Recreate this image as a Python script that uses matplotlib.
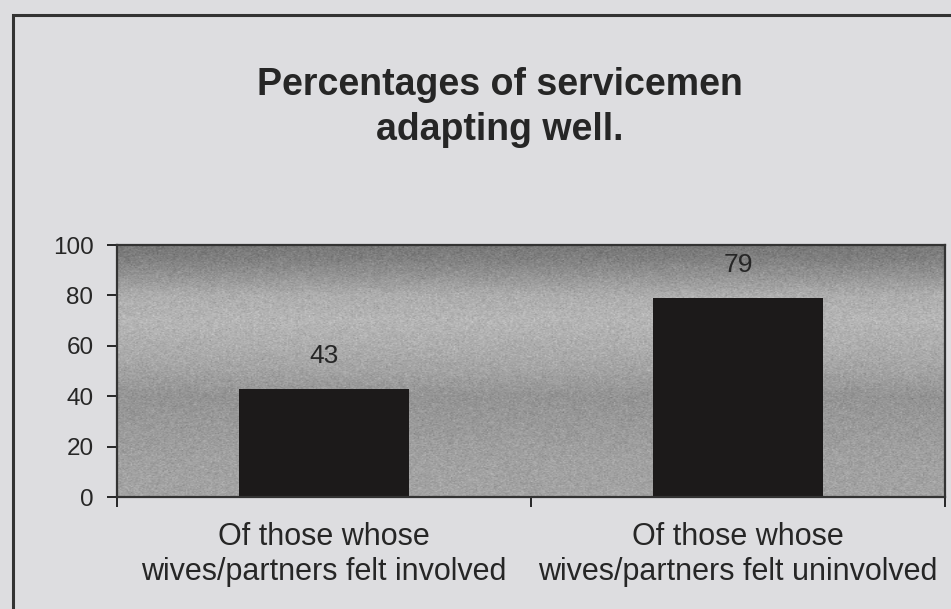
import numpy as np
import matplotlib
matplotlib.use("Agg")
import matplotlib.pyplot as plt
from matplotlib.patches import Rectangle

plt.rcParams["font.family"] = ["Liberation Sans", "DejaVu Sans"]

title_lines = ["Percentages of servicemen", "adapting well."]
categories = ["Of those whose\nwives/partners felt involved",
              "Of those whose\nwives/partners felt uninvolved"]
values = [43, 79]
yticks = [0, 20, 40, 60, 80, 100]

# grey shading of the plot area, bottom to top
shade_levels = [0, 15, 30, 40, 50, 60, 70, 80, 88, 95, 100]
shade_grey = [0.64, 0.63, 0.60, 0.58, 0.64, 0.68, 0.71, 0.68, 0.58, 0.50, 0.47]

bg = "#dddde0"
ink = "#262626"

fig = plt.figure(figsize=(9.51, 6.09), dpi=100, facecolor=bg)
ax = fig.add_axes([117 / 951, 1 - 497 / 609, (945 - 117) / 951, (497 - 245) / 609])

# frame around the chart, running off the right and bottom edges
fig.patches.append(Rectangle((13 / 951, -0.1), 1.2, 1 - 15 / 609 + 0.1,
                             transform=fig.transFigure, fill=False,
                             edgecolor="#333333", linewidth=2.2, zorder=0))

# shaded background with a little grain
rows = np.linspace(0, 100, 300)
col = np.interp(rows, shade_levels, shade_grey)
img = np.repeat(col[:, None], 600, axis=1)
rng = np.random.default_rng(3)
img = np.clip(img + rng.normal(0, 0.035, img.shape), 0, 1)
ax.imshow(img, extent=[-0.5, 1.5, 0, 100], origin="lower", cmap="gray",
          vmin=0, vmax=1, aspect="auto", interpolation="bilinear", zorder=0)

x = np.arange(len(values))
ax.bar(x, values, width=0.41, color="#1c1a1a", zorder=2)
for xi, v in zip(x, values):
    ax.text(xi, v + 13, str(v), ha="center", va="center", fontsize=19, color=ink, zorder=3)

ax.set_xlim(-0.5, 1.5)
ax.set_ylim(0, 100)
ax.set_yticks(yticks)
ax.set_xticks(x)
ax.set_xticklabels(categories, fontsize=22, color=ink, linespacing=1.2)
ax.set_xticks([-0.5, 0.5, 1.5], minor=True)
ax.tick_params(axis="x", which="major", length=0, pad=18)
ax.tick_params(axis="x", which="minor", length=7, width=1.4, color=ink, direction="out")
ax.tick_params(axis="y", length=7, width=1.4, color=ink, pad=10, labelsize=17.5, labelcolor=ink)

for s in ax.spines.values():
    s.set_color("#333333")
    s.set_linewidth(1.6)

for line, ypix in zip(title_lines, [85, 130]):
    fig.text(0.526, 1 - ypix / 609, line, ha="center", va="center",
             fontsize=27, fontweight="bold", color=ink)

fig.savefig("out.png", dpi=100, facecolor=bg)
